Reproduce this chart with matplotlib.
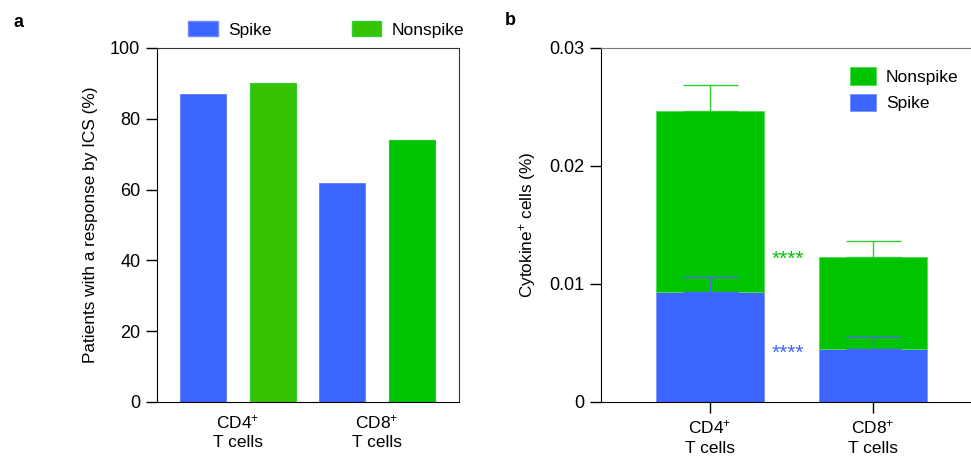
import matplotlib
matplotlib.use("Agg")
import matplotlib.pyplot as plt
import matplotlib.patches as mpatches
import numpy as np

plt.rcParams["font.family"] = ["Liberation Sans", "DejaVu Sans"]
plt.rcParams["mathtext.fontset"] = "custom"
plt.rcParams["mathtext.rm"] = "Liberation Sans"
plt.rcParams["mathtext.it"] = "Liberation Sans"

# ── data ──
groups = ["CD4$^{+}$\nT cells", "CD8$^{+}$\nT cells"]
pct_spike = [87, 62]
pct_nonspike = [90, 74]

freq_spike = [0.00935, 0.00447]
freq_nonspike = [0.01534, 0.00784]   # stacked on top of spike
err_spike = [0.00124, 0.00101]
err_total = [0.00217, 0.00131]
stars = ["****", "****"]

yticks_a = [0, 20, 40, 60, 80, 100]
yticks_b = [0, 0.01, 0.02, 0.03]
yticklabels_b = ["0", "0.01", "0.02", "0.03"]

C_BLUE = "#3C64FF"
C_GREEN = "#00C400"
C_GREEN2 = "#36C400"

fig = plt.figure(figsize=(9.71, 4.57), dpi=100)

# ── panel a ──
ax1 = fig.add_axes([0.1617, 0.1204, 0.311, 0.7746])
x = np.arange(len(groups))
off, w = 0.252, 0.33
ax1.bar(x - off, pct_spike, w, color=C_BLUE, edgecolor="#5a7dff", linewidth=0.6)
ax1.bar(x + off, pct_nonspike, w, color=[C_GREEN2, C_GREEN], edgecolor=["#33d033", "#22cc22"], linewidth=0.8)
ax1.set_xlim(-0.583, 1.59)
ax1.set_ylim(0, 100)
ax1.set_yticks(yticks_a)
ax1.set_xticks(x)
ax1.set_xticklabels(groups, fontsize=12.5, linespacing=1.35)
ax1.tick_params(axis="x", length=0, pad=8)
ax1.tick_params(axis="y", length=8, width=1, labelsize=13, pad=4)
ax1.set_ylabel("Patients with a response by ICS (%)", fontsize=12.4, labelpad=9)
for s in ["top", "right"]:
    ax1.spines[s].set_color("#333333")

leg_a = [
    mpatches.Patch(facecolor=C_BLUE, edgecolor="#6a8aff", label="Spike"),
    mpatches.Patch(facecolor=C_GREEN2, edgecolor="#33d033", label="Nonspike"),
]
fig.legend(handles=leg_a, loc="center left", bbox_to_anchor=(0.178, 0.935), ncol=2,
           frameon=False, fontsize=12.5, handlelength=1.7, handleheight=0.95,
           handletextpad=0.6, columnspacing=4.6)

# ── panel b ──
ax2 = fig.add_axes([0.6187, 0.1204, 0.3813, 0.7746])
xb = np.arange(len(groups))
wb = 0.665
ax2.bar(xb, freq_spike, wb, color=C_BLUE, edgecolor="#7a95ff", linewidth=0.6, label="Spike")
ax2.bar(xb, freq_nonspike, wb, bottom=freq_spike, color=C_GREEN, edgecolor="#55dd55",
        linewidth=0.6, label="Nonspike")
tot = np.array(freq_spike) + np.array(freq_nonspike)
ax2.errorbar(xb, freq_spike, yerr=[np.zeros(2), err_spike], fmt="none",
             ecolor="#4a6cf0", elinewidth=1, capsize=19.8, capthick=1)
ax2.errorbar(xb, tot, yerr=[np.zeros(2), err_total], fmt="none",
             ecolor="#33cc33", elinewidth=1, capsize=19.8, capthick=1)
ax2.text(0.48, 0.0121, stars[0], color=C_GREEN, fontsize=15, ha="center", va="center")
ax2.text(0.48, 0.0041, stars[1], color=C_BLUE, fontsize=15, ha="center", va="center")

ax2.set_xlim(-0.671, 1.601)
ax2.set_ylim(0, 0.03)
ax2.set_yticks(yticks_b)
ax2.set_yticklabels(yticklabels_b)
ax2.set_xticks(xb)
ax2.set_xticklabels(groups, fontsize=12.5, linespacing=1.35)
ax2.tick_params(axis="x", length=8, width=1, pad=4)
ax2.tick_params(axis="y", length=8, width=1, labelsize=13, pad=4)
ax2.set_ylabel("Cytokine$^{+}$ cells (%)", fontsize=12.4, labelpad=8)
ax2.spines["right"].set_visible(False)
ax2.spines["top"].set_color("#777777")

h, l = ax2.get_legend_handles_labels()
ax2.legend(h[::-1], l[::-1], loc="upper left", bbox_to_anchor=(0.63, 0.99), frameon=False,
           fontsize=12.5, handlelength=1.5, handleheight=1.2, handletextpad=0.6,
           labelspacing=0.5)

# ── panel letters ──
fig.text(0.014, 0.95, "a", fontsize=13, fontweight="bold", va="center")
fig.text(0.52, 0.955, "b", fontsize=13, fontweight="bold", va="center")

fig.savefig("out.png", dpi=100)
